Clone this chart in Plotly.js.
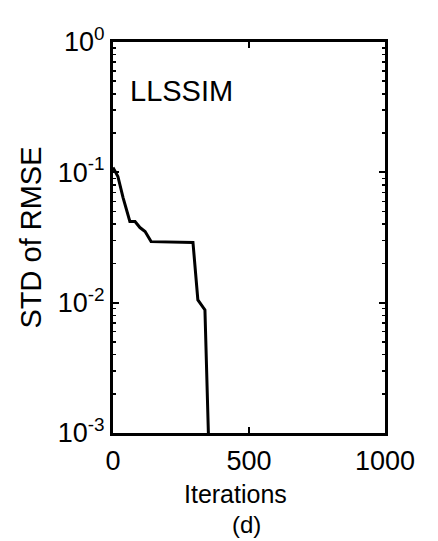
<!DOCTYPE html>
<html>
<head>
<meta charset="utf-8">
<script src="https://cdn.plot.ly/plotly-3.0.1.min.js"></script>
<style>
  html, body { margin: 0; padding: 0; background: #fff; }
  #chart { width: 438px; height: 541px; }
</style>
</head>
<body>
<div id="chart"></div>
<script>
// Standard deviation of RMSE versus iteration count (LLSSIM run)
const iterations = [0, 18, 37, 62, 81, 99, 118, 140, 294, 312, 338, 352];
const stdRmse    = [0.109, 0.093, 0.064, 0.042, 0.042, 0.0377, 0.0352, 0.0294, 0.0290, 0.0105, 0.0088, 0.0008];

const xTickVals = [0, 500, 1000];
const xTickText = ['0', '500', '1000'];
const yTickVals = [0.001, 0.01, 0.1, 1];
const yTickText = ['10<sup>-3</sup>', '10<sup>-2</sup>', '10<sup>-1</sup>', '10<sup>0</sup>'];

// minor log ticks 2..9 within each decade
const yMinor = [];
[0.001, 0.01, 0.1].forEach(d => { for (let k = 2; k <= 9; k++) yMinor.push(d * k); });

const font = 'Liberation Sans, Arial, Helvetica, sans-serif';

const trace = {
  x: iterations,
  y: stdRmse,
  mode: 'lines',
  line: { color: '#000', width: 3 },
  hoverinfo: 'skip'
};

const layout = {
  width: 438,
  height: 541,
  margin: { l: 113, r: 53, t: 42, b: 108 },
  paper_bgcolor: '#fff',
  plot_bgcolor: '#fff',
  showlegend: false,
  font: { family: font, color: '#000', size: 27 },
  xaxis: {
    range: [0, 1000],
    tickvals: xTickVals,
    ticktext: xTickText,
    ticks: 'inside',
    ticklen: 6,
    tickwidth: 2,
    tickcolor: '#000',
    showline: true,
    linecolor: '#000',
    linewidth: 3,
    mirror: 'allticks',
    showgrid: false,
    zeroline: false,
    tickfont: { family: font, size: 27, color: '#000' },
    ticklabelstandoff: 2
  },
  yaxis: {
    type: 'log',
    range: [-3, 0],
    tickvals: yTickVals,
    ticktext: yTickText,
    ticks: 'inside',
    ticklen: 6,
    tickwidth: 2,
    tickcolor: '#000',
    showline: true,
    linecolor: '#000',
    linewidth: 3,
    mirror: 'allticks',
    showgrid: false,
    zeroline: false,
    tickfont: { family: font, size: 27, color: '#000' },
    ticklabelstandoff: 0,
    minor: {
      tickvals: yMinor,
      ticks: 'inside',
      ticklen: 3,
      tickwidth: 1.5,
      tickcolor: '#000',
      showgrid: false
    },
    title: {
      text: 'STD of RMSE',
      font: { family: font, size: 29, color: '#000' },
      standoff: 8
    }
  },
  annotations: [
    {
      text: 'LLSSIM', xref: 'paper', yref: 'paper',
      x: 0.055, y: 0.875, xanchor: 'left', yanchor: 'middle',
      showarrow: false, font: { family: font, size: 29, color: '#000' }
    },
    {
      text: 'Iterations', xref: 'paper', yref: 'paper',
      x: 0.45, y: -0.156, xanchor: 'center', yanchor: 'middle',
      showarrow: false, borderpad: 0, font: { family: font, size: 25, color: '#000' }
    },
    {
      text: '(d)', xref: 'paper', yref: 'paper',
      x: 0.49, y: -0.233, xanchor: 'center', yanchor: 'middle',
      showarrow: false, borderpad: 0, font: { family: font, size: 24, color: '#000' }
    }
  ]
};

Plotly.newPlot('chart', [trace], layout, { displayModeBar: false, staticPlot: true });
</script>
</body>
</html>
